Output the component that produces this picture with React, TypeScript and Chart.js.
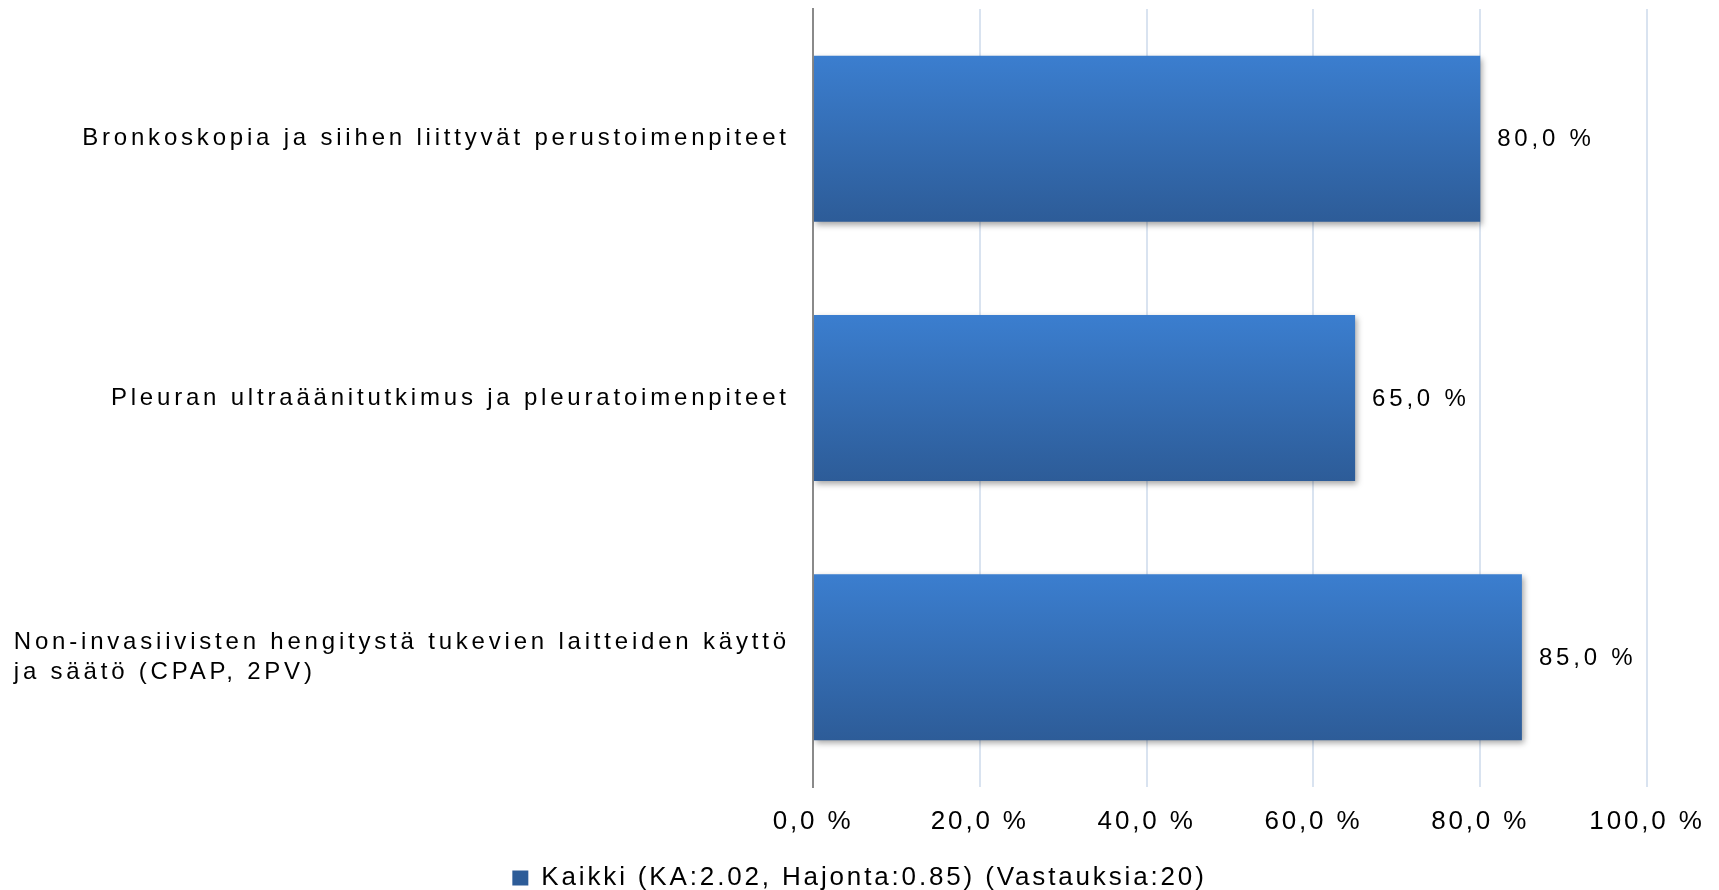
import React, { useEffect, useRef } from 'react';
import { Chart, registerables } from 'chart.js';

Chart.register(...registerables);

// ---- data ----
const categories: string[][] = [
  ['Bronkoskopia ja siihen liittyvät perustoimenpiteet'],
  ['Pleuran ultraäänitutkimus ja pleuratoimenpiteet'],
  ['Non-invasiivisten hengitystä tukevien laitteiden käyttö', 'ja säätö (CPAP, 2PV)'],
];
const values: number[] = [80, 65, 85];
const seriesLabel = 'Kaikki (KA:2.02, Hajonta:0.85) (Vastauksia:20)';
const xTickLabels: string[] = ['0,0 %', '20,0 %', '40,0 %', '60,0 %', '80,0 %', '100,0 %'];
const xMin = 0;
const xMax = 100;
const xStep = 20;

const FONT = '"Liberation Sans", Arial, Helvetica, sans-serif';
const BASE_SPACING = '2.85px';

const fmt = (v: number) => v.toFixed(1).replace('.', ',') + ' %';

const spacingPlugin = {
  id: 'spacing',
  beforeUpdate(chart: any) { chart.ctx.letterSpacing = BASE_SPACING; },
  beforeLayout(chart: any) { chart.ctx.letterSpacing = BASE_SPACING; },
  beforeDraw(chart: any) { chart.ctx.letterSpacing = BASE_SPACING; },
};

const barDecorPlugin = {
  id: 'barDecor',
  beforeDatasetsDraw(chart: any) {
    const c = chart.ctx;
    c.save();
    c.shadowColor = 'rgba(0,0,0,0.35)';
    c.shadowBlur = 6;
    c.shadowOffsetX = 2;
    c.shadowOffsetY = 3;
  },
  afterDatasetsDraw(chart: any) {
    const c = chart.ctx;
    c.restore();
    const meta = chart.getDatasetMeta(0);
    const yScale = chart.scales.y;
    c.save();
    // value labels
    c.fillStyle = '#000';
    c.font = `24px ${FONT}`;
    c.letterSpacing = '3.8px';
    c.textAlign = 'left';
    c.textBaseline = 'middle';
    meta.data.forEach((bar: any, i: number) => {
      c.fillText(fmt(values[i]), bar.x + 17, bar.y + 1);
    });
    // category labels: block right-aligned, lines left-aligned
    c.font = `24px ${FONT}`;
    const lsp = 3.8;
    c.letterSpacing = lsp + 'px';
    const lineH = 30;
    const rightEdge = chart.chartArea.left - 27;
    categories.forEach((lines, i) => {
      const cy = yScale.getPixelForValue(i);
      const widest = Math.max(...lines.map((l) => c.measureText(l).width - lsp));
      const x = rightEdge - widest;
      const y0 = cy - ((lines.length - 1) * lineH) / 2;
      lines.forEach((l, j) => c.fillText(l, x, y0 + j * lineH));
    });
    c.restore();
  },
};

export default function App() {
  const ref = useRef<HTMLCanvasElement | null>(null);

  useEffect(() => {
    if (!ref.current) return;
    const chart = new Chart(ref.current, {
      type: 'bar',
      data: {
        labels: categories,
        datasets: [
          {
            label: seriesLabel,
            data: values,
            backgroundColor: (ctx: any) => {
              const ch = ctx.chart;
              if (!ch.chartArea || ctx.type !== 'data' || ctx.dataIndex === undefined) return '#3A6EB3';
              const ys = ch.scales.y;
              const cpx = ys.getPixelForValue(ctx.dataIndex);
              const h = (ys.height / categories.length) * 0.64;
              const g = ch.ctx.createLinearGradient(0, cpx - h / 2, 0, cpx + h / 2);
              g.addColorStop(0, '#3B7ECF');
              g.addColorStop(1, '#2D5C98');
              return g;
            },
            borderWidth: 0,
            barPercentage: 0.64,
            categoryPercentage: 1,
          },
        ],
      },
      options: {
        indexAxis: 'y',
        animation: false,
        responsive: false,
        devicePixelRatio: 1,
        layout: { padding: { top: 9, right: 72, bottom: 0, left: 72 } },
        scales: {
          x: {
            min: xMin,
            max: xMax,
            ticks: {
              stepSize: xStep,
              padding: 0,
              color: '#000',
              font: { size: 26, family: FONT, lineHeight: 2.69 },
              callback: (_v: any, i: number) => xTickLabels[i],
            },
            grid: { color: '#D9E3F0', lineWidth: 2, drawTicks: false },
            border: { display: false },
            afterFit: (s: any) => { s.height = 78; },
          },
          y: {
            ticks: { display: false },
            grid: { display: false, drawTicks: false },
            border: { display: true, color: '#8A8A8A', width: 2 },
            afterFit: (s: any) => { s.width = 741; },
          },
        },
        plugins: {
          legend: {
            position: 'bottom',
            maxHeight: 25,
            labels: {
              boxWidth: 16,
              boxHeight: 15,
              padding: 0,
              color: '#000',
              font: { size: 26, family: FONT },
            },
          },
          tooltip: { enabled: false },
        },
      } as any,
      plugins: [spacingPlugin, barDecorPlugin],
    });
    return () => chart.destroy();
  }, []);

  return (
    <div style={{ position: 'absolute', left: 0, top: 0, width: 1719, height: 890, background: '#fff' }}>
      <canvas ref={ref} width={1719} height={890} style={{ display: 'block' }} />
    </div>
  );
}
